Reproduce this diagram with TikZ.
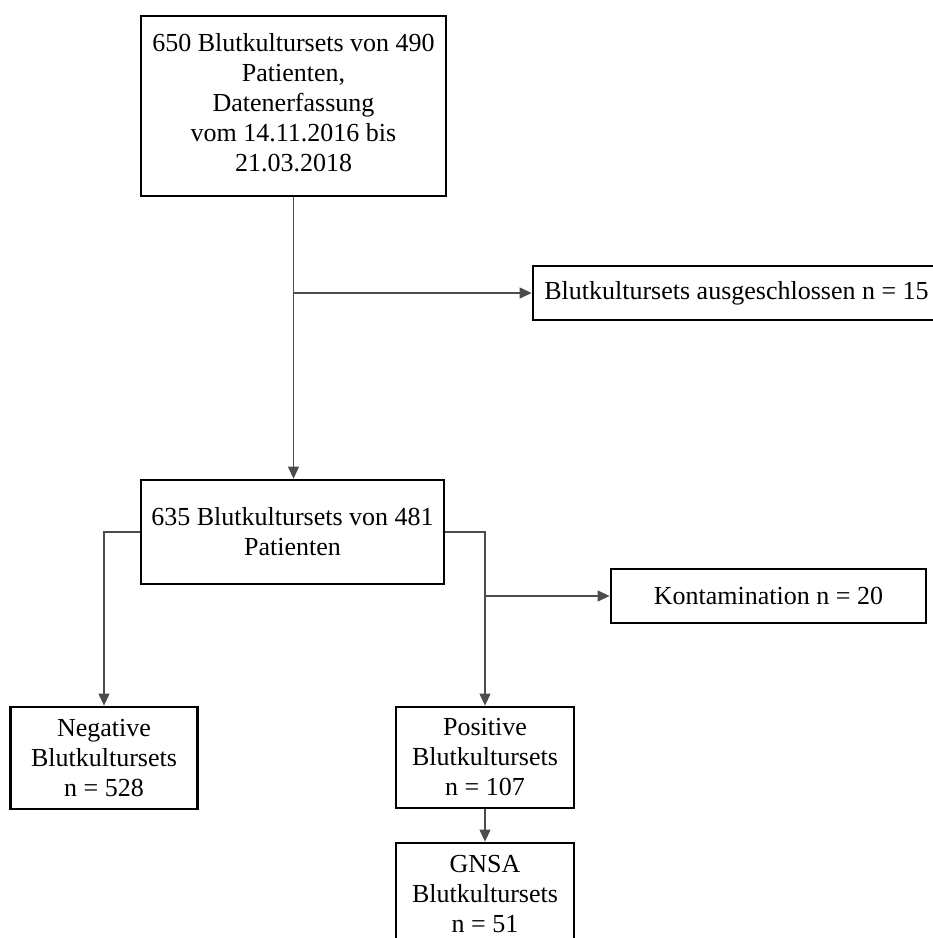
\documentclass[tikz,border=0pt]{standalone}
\usepackage{fontspec}
\setmainfont{Liberation Serif}
\usetikzlibrary{arrows.meta}
\begin{document}
\begin{tikzpicture}[x=1pt,y=-1pt,
  box/.style={draw=black, line width=2.8pt, fill=white, align=center, inner sep=2pt,
    font=\fontsize{26}{30}\selectfont},
  conn/.style={draw=black!70, line width=1.1pt},
  arr/.style={conn, -{Triangle[length=12pt,width=11pt]}}]
\useasboundingbox (0,0) rectangle (933,938);
\begin{scope}
\clip (0,0) rectangle (933,938);
\node[box, minimum width=305pt, minimum height=180pt] (b1) at (293.5,106)
  {650 Blutkultursets von 490\\Patienten,\\Datenerfassung\\vom 14.11.2016 bis\\21.03.2018\\[-22pt]};
\node[box, minimum width=407pt, minimum height=54pt] (b3) at (736.5,293)
  {Blutkultursets ausgeschlossen n = 15};
\node[box, minimum width=303pt, minimum height=104pt] (b2) at (292.5,532)
  {635 Blutkultursets von 481\\Patienten};
\node[box, minimum width=315pt, minimum height=54pt] (kont) at (768.5,596)
  {Kontamination n = 20};
\node[box, minimum width=187pt, minimum height=102pt] (neg) at (104,758)
  {Negative\\Blutkultursets\\n = 528};
\node[box, minimum width=178pt, minimum height=101pt] (pos) at (485,757.5)
  {Positive\\Blutkultursets\\n = 107};
\node[box, minimum width=178pt, minimum height=102pt] (gnsa) at (485,894)
  {GNSA\\Blutkultursets\\n = 51};
\coordinate (j1) at (b1.south |- b3.west);
\draw[arr] (b1.south) -- (b1.south |- b2.north);
\draw[arr] (j1) -- (b3.west);
\draw[arr] (b2.west) -| (neg.north);
\draw[arr] (b2.east) -| (pos.north);
\coordinate (j2) at (pos.north |- kont.west);
\draw[arr] (j2) -- (kont.west);
\draw[arr] (pos.south) -- (gnsa.north);
\end{scope}
\end{tikzpicture}
\end{document}
